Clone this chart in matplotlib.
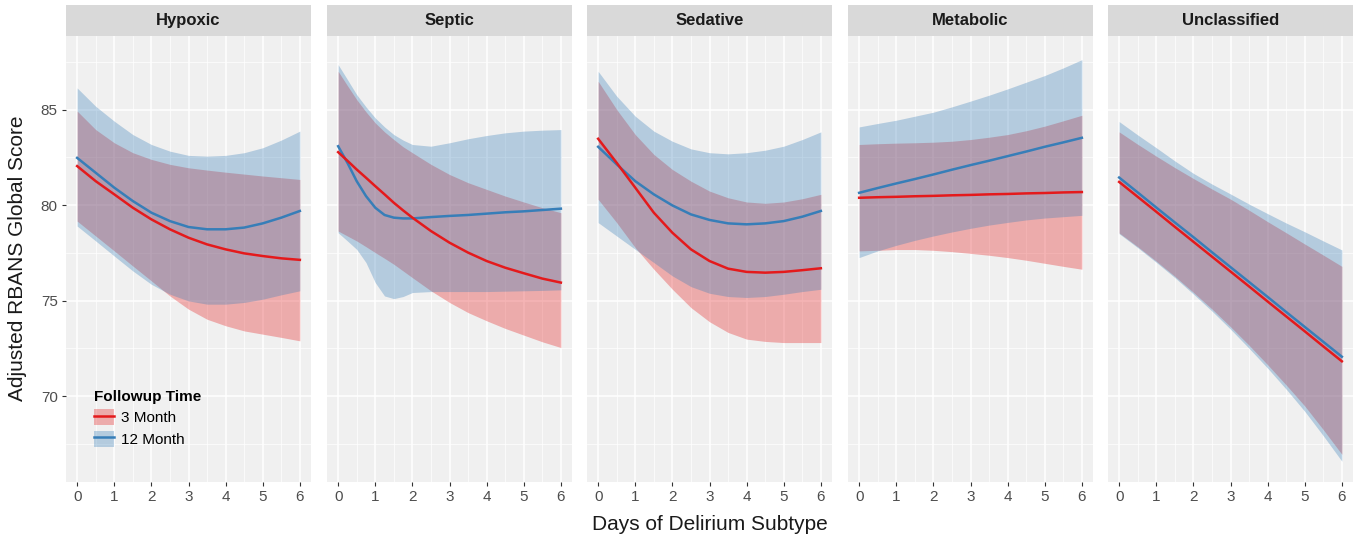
import matplotlib
matplotlib.use("Agg")
import matplotlib.pyplot as plt
from matplotlib.patches import Patch
from matplotlib.lines import Line2D
from matplotlib.ticker import MultipleLocator

plt.rcParams["font.family"] = ["Liberation Sans", "DejaVu Sans"]

# Values
days = [0, 0.5, 1, 1.5, 2, 2.5, 3, 3.5, 4, 4.5, 5, 5.5, 6]
septic_days = [0, 0.25, 0.5, 0.75, 1, 1.25, 1.5, 1.75, 2, 2.5, 3, 3.5, 4, 4.5, 5, 5.5, 6]
panels = ["Hypoxic", "Septic", "Sedative", "Metabolic", "Unclassified"]

hypoxic_3m = [82.04, 81.25, 80.56, 79.86, 79.25, 78.73, 78.29, 77.94, 77.68, 77.47, 77.33, 77.21, 77.13]
hypoxic_3m_lo = [79.16, 78.38, 77.6, 76.81, 76.03, 75.24, 74.55, 74.02, 73.68, 73.41, 73.24, 73.07, 72.89]
hypoxic_3m_hi = [84.92, 83.95, 83.26, 82.74, 82.39, 82.13, 81.95, 81.83, 81.72, 81.62, 81.52, 81.43, 81.34]
hypoxic_12m = [82.47, 81.69, 80.91, 80.21, 79.6, 79.16, 78.85, 78.73, 78.73, 78.82, 79.04, 79.34, 79.69]
hypoxic_12m_lo = [78.9, 78.12, 77.33, 76.55, 75.85, 75.33, 74.98, 74.81, 74.81, 74.9, 75.07, 75.3, 75.51]
hypoxic_12m_hi = [86.13, 85.17, 84.39, 83.69, 83.17, 82.82, 82.6, 82.56, 82.6, 82.74, 83.0, 83.4, 83.87]

septic_3m = [82.77, 82.32, 81.86, 81.43, 80.99, 80.56, 80.12, 79.72, 79.34,
             78.64, 78.03, 77.51, 77.07, 76.72, 76.43, 76.15, 75.94]
septic_3m_lo = [78.64, 78.38, 78.12, 77.82, 77.51, 77.21, 76.9, 76.55, 76.2,
                75.51, 74.9, 74.37, 73.94, 73.54, 73.19, 72.84, 72.54]
septic_3m_hi = [87.0, 86.25, 85.52, 84.88, 84.3, 83.83, 83.43, 83.05, 82.74,
                82.13, 81.6, 81.17, 80.82, 80.47, 80.16, 79.86, 79.6]
septic_12m = [83.08, 82.21, 81.25, 80.47, 79.86, 79.48, 79.34, 79.3, 79.3,
              79.37, 79.43, 79.48, 79.55, 79.62, 79.67, 79.74, 79.81]
septic_12m_lo = [78.55, 78.12, 77.68, 76.99, 75.94, 75.24, 75.1, 75.21, 75.42,
                 75.47, 75.47, 75.47, 75.47, 75.49, 75.51, 75.53, 75.56]
septic_12m_hi = [87.35, 86.57, 85.78, 85.14, 84.56, 84.09, 83.69, 83.4, 83.17,
                 83.08, 83.26, 83.47, 83.64, 83.78, 83.87, 83.92, 83.95]

sedative_3m = [83.47, 82.21, 80.91, 79.6, 78.55, 77.68, 77.07, 76.67, 76.5, 76.46, 76.5, 76.59, 76.69]
sedative_3m_lo = [80.3, 79.08, 77.77, 76.64, 75.59, 74.63, 73.89, 73.33, 72.98, 72.86, 72.8, 72.8, 72.8]
sedative_3m_hi = [86.48, 85.0, 83.69, 82.65, 81.86, 81.25, 80.73, 80.38, 80.16, 80.09, 80.16, 80.33, 80.56]
sedative_12m = [83.05, 82.13, 81.25, 80.56, 79.98, 79.51, 79.22, 79.04, 78.99, 79.04, 79.16, 79.39, 79.69]
sedative_12m_lo = [79.08, 78.38, 77.68, 76.99, 76.29, 75.73, 75.38, 75.21, 75.16, 75.21, 75.33, 75.47, 75.59]
sedative_12m_hi = [87.0, 85.7, 84.65, 83.87, 83.34, 82.94, 82.74, 82.68, 82.74, 82.87, 83.08, 83.43, 83.83]

metabolic_3m = [80.38, 80.41, 80.43, 80.46, 80.48, 80.51, 80.53, 80.56, 80.58, 80.61, 80.63, 80.66, 80.68]
metabolic_3m_lo = [77.6, 77.63, 77.67, 77.67, 77.63, 77.56, 77.47, 77.37, 77.25, 77.11, 76.95, 76.79, 76.64]
metabolic_3m_hi = [83.17, 83.21, 83.24, 83.26, 83.29, 83.34, 83.43, 83.55, 83.69, 83.89, 84.13, 84.41, 84.7]
metabolic_12m = [80.64, 80.89, 81.13, 81.36, 81.6, 81.85, 82.09, 82.32, 82.56, 82.8, 83.05, 83.28, 83.52]
metabolic_12m_lo = [77.25, 77.6, 77.89, 78.15, 78.38, 78.59, 78.78, 78.95, 79.09, 79.22, 79.32, 79.39, 79.46]
metabolic_12m_hi = [84.09, 84.27, 84.44, 84.65, 84.86, 85.14, 85.44, 85.75, 86.08, 86.43, 86.78, 87.18, 87.61]

unclassified_3m = [81.21, 80.43, 79.65, 78.86, 78.08, 77.3, 76.52, 75.74, 74.95, 74.17, 73.39, 72.6, 71.82]
unclassified_3m_lo = [78.54, 77.82, 77.06, 76.27, 75.43, 74.56, 73.63, 72.66, 71.64, 70.58, 69.48, 68.24, 66.95]
unclassified_3m_hi = [83.83, 83.18, 82.56, 81.96, 81.39, 80.84, 80.31, 79.73, 79.13, 78.55, 77.96, 77.38, 76.79]
unclassified_12m = [81.44, 80.66, 79.87, 79.09, 78.32, 77.53, 76.75, 75.97, 75.19, 74.4, 73.62, 72.84, 72.06]
unclassified_12m_lo = [78.5, 77.77, 77.0, 76.2, 75.34, 74.45, 73.5, 72.5, 71.46, 70.36, 69.2, 67.92, 66.59]
unclassified_12m_hi = [84.37, 83.67, 83.0, 82.31, 81.66, 81.1, 80.58, 80.05, 79.55, 79.06, 78.6, 78.12, 77.65]

panel_days = [days, septic_days, days, days, days]
three_month = [hypoxic_3m, septic_3m, sedative_3m, metabolic_3m, unclassified_3m]
three_lo = [hypoxic_3m_lo, septic_3m_lo, sedative_3m_lo, metabolic_3m_lo, unclassified_3m_lo]
three_hi = [hypoxic_3m_hi, septic_3m_hi, sedative_3m_hi, metabolic_3m_hi, unclassified_3m_hi]
twelve_month = [hypoxic_12m, septic_12m, sedative_12m, metabolic_12m, unclassified_12m]
twelve_lo = [hypoxic_12m_lo, septic_12m_lo, sedative_12m_lo, metabolic_12m_lo, unclassified_12m_lo]
twelve_hi = [hypoxic_12m_hi, septic_12m_hi, sedative_12m_hi, metabolic_12m_hi, unclassified_12m_hi]

red = "#e41a1c"
blue = "#377eb8"
band_alpha = 0.32

W, H = 1360, 540
fig = plt.figure(figsize=(W / 100, H / 100), dpi=100)

panel_left = [66, 327, 587, 848, 1108]
panel_w = 245
panel_top, panel_bot = 36, 482
strip_top = 5

for i, name in enumerate(panels):
    x = panel_days[i]
    ax = fig.add_axes([panel_left[i] / W, 1 - panel_bot / H,
                       panel_w / W, (panel_bot - panel_top) / H])
    ax.set_facecolor("#f0f0f0")
    ax.fill_between(x, three_lo[i], three_hi[i], color=red, alpha=band_alpha, lw=0)
    ax.fill_between(x, twelve_lo[i], twelve_hi[i], color=blue, alpha=band_alpha, lw=0)
    ax.plot(x, twelve_month[i], color=blue, lw=1.8, solid_joinstyle="round")
    ax.plot(x, three_month[i], color=red, lw=1.8, solid_joinstyle="round")

    ax.set_xlim(-0.3, 6.3)
    ax.set_ylim(65.5, 88.85)
    ax.xaxis.set_major_locator(MultipleLocator(1))
    ax.xaxis.set_minor_locator(MultipleLocator(0.5))
    ax.yaxis.set_major_locator(MultipleLocator(5))
    ax.yaxis.set_minor_locator(MultipleLocator(2.5))
    ax.grid(which="major", color="white", lw=1.1)
    ax.grid(which="minor", color="white", lw=0.5)
    ax.set_axisbelow(True)
    for s in ax.spines.values():
        s.set_visible(False)
    ax.tick_params(which="minor", length=0)
    ax.tick_params(which="major", length=3, color="#333333", labelcolor="#4d4d4d",
                   labelsize=11, pad=3)
    if i > 0:
        ax.tick_params(axis="y", left=False, labelleft=False)

    # facet strip
    sax = fig.add_axes([panel_left[i] / W, 1 - panel_top / H,
                        panel_w / W, (panel_top - strip_top) / H])
    sax.set_facecolor("#d9d9d9")
    sax.set_xticks([])
    sax.set_yticks([])
    for s in sax.spines.values():
        s.set_visible(False)
    sax.text(0.5, 0.5, name, ha="center", va="center", fontsize=12,
             fontweight="bold", color="#1a1a1a")

    if i == 0:
        handles = [
            (Patch(facecolor=red, alpha=band_alpha, lw=0), Line2D([], [], color=red, lw=1.8)),
            (Patch(facecolor=blue, alpha=band_alpha, lw=0), Line2D([], [], color=blue, lw=1.8)),
        ]
        leg = ax.legend(handles, ["3 Month", "12 Month"], title="Followup Time",
                        loc="lower left", bbox_to_anchor=(0.07, 0.055),
                        frameon=False, fontsize=11, title_fontsize=11,
                        handlelength=1.3, handleheight=1.25, handletextpad=0.45,
                        labelspacing=0.35, borderpad=0.2)
        leg.get_title().set_fontweight("bold")
        leg._legend_box.align = "left"

fig.text(18 / W, 1 - 258 / H, "Adjusted RBANS Global Score", rotation=90,
         ha="center", va="center", fontsize=15, color="#1a1a1a")
fig.text(710 / W, 1 - 524 / H, "Days of Delirium Subtype", ha="center",
         va="center", fontsize=15, color="#1a1a1a")

fig.savefig("out.png", dpi=100)
